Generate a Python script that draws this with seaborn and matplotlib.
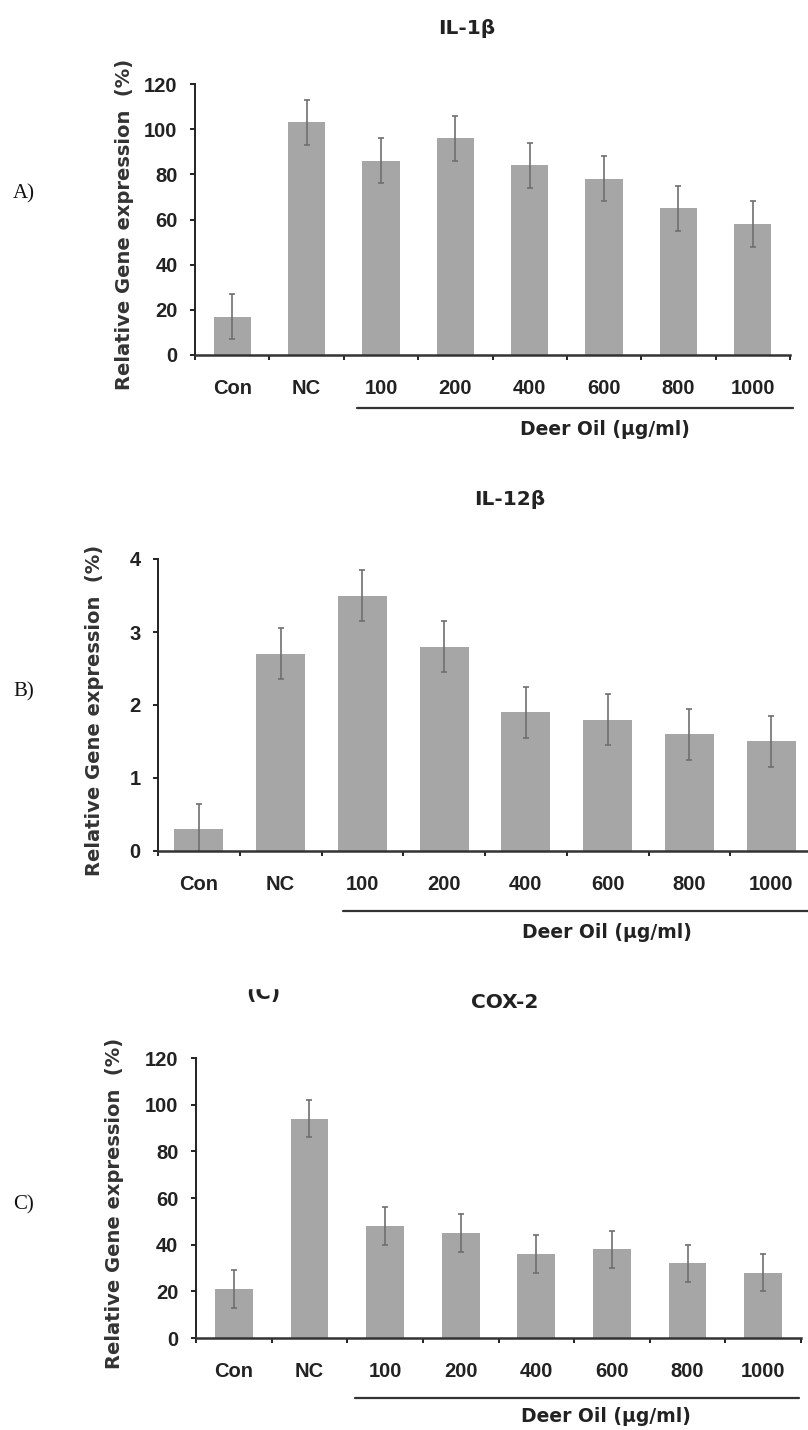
import numpy as np
import pandas as pd
import matplotlib
matplotlib.use('Agg')
import matplotlib.pyplot as plt
from matplotlib.lines import Line2D
from matplotlib.patches import Rectangle
import seaborn as sns

# data
categories = ['Con', 'NC', '100', '200', '400', '600', '800', '1000']

il1b_mean = [17, 103, 86, 96, 84, 78, 65, 58]
il1b_err = [10, 10, 10, 10, 10, 10, 10, 10]

il12b_mean = [0.3, 2.7, 3.5, 2.8, 1.9, 1.8, 1.6, 1.5]
il12b_err = [0.35, 0.35, 0.35, 0.35, 0.35, 0.35, 0.35, 0.35]

cox2_mean = [21, 94, 48, 45, 36, 38, 32, 28]
cox2_err = [8, 8, 8, 8, 8, 8, 8, 8]

titles = ['IL-1β', 'IL-12β', 'COX-2']
tags = ['A)', 'B)', 'C)']
y_max = [120, 4, 120]
y_step = [20, 1, 20]

sns.set_style('ticks')
plt.rcParams['font.family'] = ['Liberation Sans', 'DejaVu Sans']

W, H = 808, 1430
fig = plt.figure(figsize=(W / 100, H / 100), dpi=100)


def fx(x):
    return x / W


def fy(y):
    return 1 - y / H


# axes boxes in pixels: left, top, right, bottom
boxes = [(195, 84, 790, 355), (158, 559, 812, 851), (196, 1058, 801, 1338)]
bar_w = [0.5, 0.6, 0.5]
ylab_x = [124, 95, 114]
title_pos = [(467, 28), (510, 500), (505, 1002)]
tag_pos = [(24, 194), (24, 692), (24, 1205)]
deer_pos = [(605, 430), (607, 933), (606, 1416)]
line_pos = [(357, 793, 408), (343, 812, 911), (355, 799, 1398)]

means = [il1b_mean, il12b_mean, cox2_mean]
errs = [il1b_err, il12b_err, cox2_err]

for i in range(3):
    l, t, r, b = boxes[i]
    ax = fig.add_axes([fx(l), fy(b), fx(r - l), (b - t) / H])
    df = pd.DataFrame({'group': categories, 'value': means[i]})
    sns.barplot(data=df, x='group', y='value', color='#a6a6a6', saturation=1,
                width=bar_w[i], errorbar=None, ax=ax)
    ax.errorbar(np.arange(len(categories)), means[i], yerr=errs[i], fmt='none',
                ecolor='#6f6f6f', elinewidth=1.2, capsize=2.2, capthick=1.2)
    for p in ax.patches:
        p.set_edgecolor('none')

    ax.set_xlim(-0.5, len(categories) - 0.5)
    ax.set_ylim(0, y_max[i])
    ax.set_yticks(np.arange(0, y_max[i] + y_step[i] / 2, y_step[i]))
    ax.set_xticks(np.arange(-0.5, len(categories), 1))
    ax.set_xticklabels([])
    ax.set_xticks(np.arange(len(categories)), minor=True)
    ax.set_xticklabels(categories, minor=True)

    ax.tick_params(axis='y', length=3.6, width=1.4, pad=9, labelsize=14.5,
                   colors='#222222')
    ax.tick_params(axis='x', which='major', length=3.6, width=1.4,
                   colors='#222222')
    ax.tick_params(axis='x', which='minor', length=0, pad=17, labelsize=14.5)
    for lab in ax.get_yticklabels() + ax.get_xticklabels(minor=True):
        lab.set_fontweight('bold')
        lab.set_color('#222222')

    sns.despine(ax=ax)
    ax.spines['left'].set_linewidth(1.4)
    ax.spines['bottom'].set_linewidth(1.8)
    ax.spines['left'].set_color('#222222')
    ax.spines['bottom'].set_color('#333333')

    ax.set_xlabel('')
    ax.set_ylabel('Relative Gene expression  (%)', fontsize=14,
                  fontweight='bold', family='DejaVu Sans', color='#333333')
    ax.yaxis.label.set_va('center')
    ax.yaxis.set_label_coords((ylab_x[i] - l) / (r - l), 0.48)

    fig.text(fx(title_pos[i][0]), fy(title_pos[i][1]), titles[i], ha='center',
             va='center', fontsize=14.5, fontweight='bold', family='DejaVu Sans',
             color='#222222')
    fig.text(fx(tag_pos[i][0]), fy(tag_pos[i][1]), tags[i], ha='center',
             va='center', fontsize=15, family='Liberation Serif', color='#111111')
    fig.text(fx(deer_pos[i][0]), fy(deer_pos[i][1]), 'Deer Oil (µg/ml)',
             ha='center', va='center', fontsize=13.5, fontweight='bold',
             family='DejaVu Sans', color='#222222')
    x0, x1, yl = line_pos[i]
    fig.add_artist(Line2D([fx(x0), fx(x1)], [fy(yl), fy(yl)],
                          transform=fig.transFigure, color='#333333', lw=1.6))

# partly cut-off "(C)" above panel C
fig.text(fx(263), fy(993), '(C)', ha='center', va='center', fontsize=15,
         fontweight='bold', family='DejaVu Sans', color='#222222')
fig.add_artist(Rectangle((fx(235), fy(988)), fx(60), 20 / H,
                         transform=fig.transFigure, color='white', zorder=10))

fig.savefig('out.png', dpi=100)
